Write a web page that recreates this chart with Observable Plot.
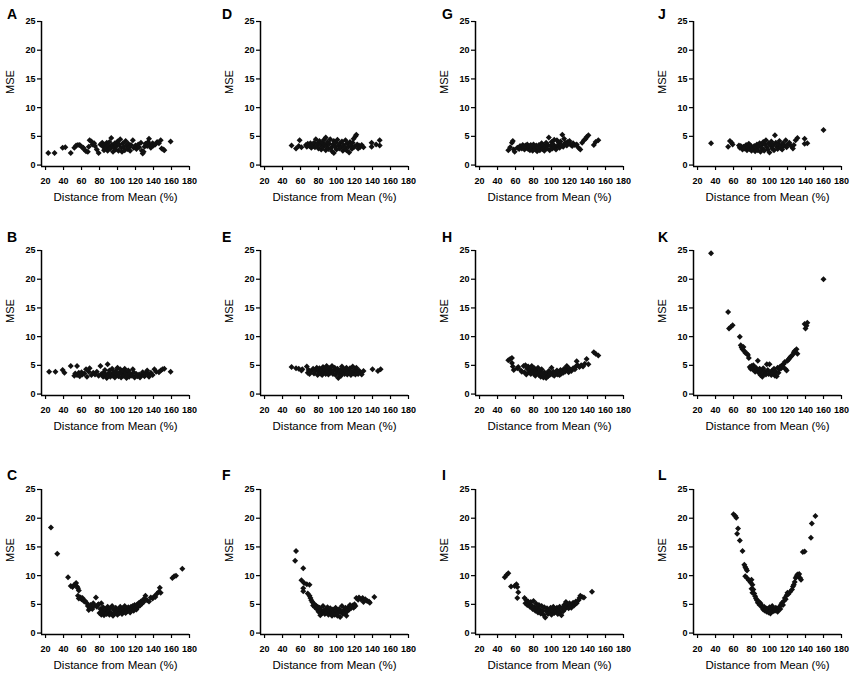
<!DOCTYPE html>
<html><head><meta charset="utf-8">
<script src="https://cdn.jsdelivr.net/npm/d3@7"></script>
<script src="https://cdn.jsdelivr.net/npm/@observablehq/plot@0.6"></script>
<style>
body{margin:0;background:#fff;}
#fig{position:relative;width:851px;height:681px;overflow:hidden;background:#fff;font-family:"Liberation Sans",Arial,sans-serif;}
#fig .panel{position:absolute;width:215px;height:210px;}
#fig .panel svg{max-width:none !important;width:215px;height:210px;}
#fig g[aria-label$="tick label"] text{font-weight:bold;}
#fig svg.letters{position:absolute;left:0;top:0;}
</style></head><body><div id="fig"></div>
<script>
// ---- tick labels and texts ----
const xTicks = [20, 40, 60, 80, 100, 120, 140, 160, 180];
const yTicks = [0, 5, 10, 15, 20, 25];
const xLabel = "Distance from Mean (%)";
const yLabel = "MSE";
const panelLetters = ["A","B","C","D","E","F","G","H","I","J","K","L"];

// ---- data: [distance from mean %, MSE] ----
const panelA = [[23,2.1],[30,2.1],[39,3.0],[42,3.1],[48,2.1],[52,3.0],[54,3.4],[56,3.5],[58,3.5],[60,3.2],[62,3.0],[63,2.7],[65,2.4],[67,2.3],[68,3.2],[69,4.3],[71,4.1],[72,3.6],[74,3.8],[75,3.3],[77,2.7],[79,2.1],[81,3.6],[83,3.9],[84,3.2],[85,2.6],[86,3.6],[87,3.0],[88,3.9],[89,2.5],[90,3.3],[91,4.0],[92,2.9],[93,4.7],[94,3.5],[95,2.3],[96,3.1],[97,3.8],[98,2.7],[99,3.3],[100,4.1],[101,2.5],[102,3.6],[103,4.5],[104,3.0],[105,2.3],[106,3.8],[107,3.2],[108,2.6],[109,4.2],[110,3.4],[111,2.8],[112,3.7],[113,3.1],[114,2.5],[115,3.5],[117,4.3],[118,3.0],[120,3.4],[121,2.8],[123,3.6],[124,3.1],[126,3.9],[127,2.5],[128,2.0],[129,2.3],[130,3.2],[131,3.7],[133,3.3],[134,4.0],[135,4.6],[136,3.5],[137,3.0],[139,3.8],[140,3.4],[142,3.6],[144,4.0],[146,3.8],[148,4.3],[149,2.9],[151,2.7],[152,2.6],[159,4.1]];
const panelB = [[24,3.9],[31,3.9],[39,4.2],[41,3.7],[48,4.9],[52,3.2],[53,3.6],[55,4.9],[55,3.3],[57,3.7],[58,3.1],[60,3.8],[61,3.4],[63,3.6],[65,4.3],[66,3.0],[68,3.9],[69,4.5],[71,3.3],[73,3.7],[75,3.4],[77,3.9],[79,3.2],[81,4.9],[82,3.5],[84,3.0],[85,3.8],[86,4.2],[87,3.3],[88,2.8],[89,5.2],[90,3.6],[91,4.1],[92,3.0],[93,3.5],[94,4.4],[95,3.2],[96,3.8],[97,2.9],[98,4.0],[99,3.4],[100,4.6],[101,3.1],[102,3.7],[103,4.3],[104,2.9],[105,3.5],[106,4.0],[107,3.2],[108,4.4],[109,3.7],[110,2.8],[111,3.4],[112,4.1],[113,3.0],[114,3.6],[116,3.2],[117,4.3],[118,3.8],[119,2.9],[121,3.5],[122,3.1],[124,3.4],[125,2.9],[127,3.3],[128,3.8],[130,3.1],[131,3.6],[133,4.1],[134,3.4],[135,3.0],[137,3.7],[139,3.3],[141,4.3],[143,3.9],[146,3.8],[148,4.1],[150,4.3],[152,4.4],[159,3.9]];
const panelC = [[26,18.4],[33,13.8],[45,9.7],[48,8.2],[50,8.0],[52,8.4],[54,8.7],[55,8.1],[56,7.8],[57,7.4],[56,6.5],[57,6.0],[59,6.2],[60,5.9],[61,6.1],[62,5.8],[63,5.5],[64,5.6],[66,5.2],[67,4.7],[68,4.0],[69,4.3],[70,4.9],[71,4.5],[72,4.2],[73,5.2],[74,4.8],[76,6.2],[77,4.6],[78,4.9],[79,5.0],[80,3.5],[81,4.2],[82,5.2],[82,3.2],[83,3.8],[84,4.5],[85,3.1],[86,3.6],[87,4.1],[88,3.3],[89,4.6],[90,3.8],[91,3.2],[92,4.3],[93,3.5],[94,4.7],[95,3.0],[96,4.0],[97,3.4],[98,4.4],[99,3.7],[100,3.2],[101,4.1],[102,3.5],[103,4.6],[104,3.9],[105,3.3],[106,4.3],[107,3.7],[108,4.7],[109,3.5],[110,4.1],[111,3.8],[112,4.5],[113,4.0],[114,3.6],[115,4.6],[116,4.2],[117,4.7],[118,3.9],[119,4.9],[120,4.4],[121,4.1],[122,5.0],[123,4.6],[124,5.3],[125,4.8],[126,5.5],[127,5.1],[128,5.7],[129,5.4],[130,6.0],[131,6.5],[133,5.7],[135,5.5],[137,6.2],[139,6.0],[141,6.4],[142,6.3],[144,6.9],[146,7.2],[147,7.9],[148,7.0],[161,9.6],[163,9.9],[165,10.0],[172,11.2]];
const panelD = [[50,3.4],[55,2.9],[58,3.3],[59,4.3],[61,3.1],[66,3.5],[67,3.2],[68,3.7],[70,3.3],[71,3.8],[72,3.0],[73,3.6],[74,3.3],[75,3.9],[76,3.1],[77,4.5],[78,3.4],[79,3.8],[80,2.9],[81,4.2],[82,3.5],[83,2.7],[84,3.9],[85,3.1],[86,4.4],[87,3.6],[88,4.8],[88,2.6],[89,3.3],[90,4.0],[91,2.8],[92,3.7],[93,4.5],[94,3.0],[95,2.4],[96,3.6],[97,4.2],[97,2.1],[98,3.2],[99,3.9],[100,2.7],[101,4.4],[102,3.4],[103,2.9],[104,3.8],[105,3.1],[106,4.1],[107,2.5],[108,3.5],[109,3.0],[110,4.3],[111,2.6],[112,3.7],[113,3.2],[114,2.2],[115,4.0],[116,3.4],[117,2.8],[118,3.9],[119,4.6],[120,3.2],[121,5.0],[122,5.3],[123,3.6],[124,2.9],[125,3.4],[126,3.1],[128,3.5],[130,3.1],[139,3.9],[139,3.2],[144,3.6],[148,4.3],[148,3.4]];
const panelE = [[50,4.7],[55,4.5],[58,4.4],[61,4.1],[62,4.3],[67,4.8],[68,3.7],[69,4.2],[70,3.5],[72,4.0],[74,4.4],[75,3.6],[77,4.1],[78,4.6],[79,3.3],[80,3.9],[81,4.5],[82,3.6],[83,4.2],[84,3.3],[85,4.7],[86,3.8],[87,4.3],[88,3.5],[89,4.9],[90,4.0],[91,3.4],[92,4.5],[93,3.7],[94,4.2],[95,4.9],[96,3.5],[97,4.1],[98,4.6],[99,3.3],[100,3.9],[101,4.4],[102,2.8],[103,3.6],[104,4.2],[105,3.2],[106,4.8],[107,3.8],[108,4.3],[109,3.5],[110,4.0],[111,4.6],[112,3.4],[113,4.1],[114,3.7],[115,4.5],[116,3.3],[117,3.9],[118,4.8],[119,3.6],[120,4.2],[121,3.4],[122,4.6],[123,3.9],[124,3.5],[125,4.1],[127,3.7],[128,3.4],[130,4.0],[140,4.3],[146,4.0],[149,4.3]];
const panelF = [[54,12.6],[55,14.3],[61,9.2],[63,11.3],[63,7.8],[63,7.3],[64,8.7],[67,8.5],[68,6.9],[70,8.4],[70,6.5],[71,6.1],[72,5.7],[73,5.4],[74,4.8],[75,5.1],[76,4.5],[77,4.8],[78,4.2],[79,4.6],[80,3.7],[81,4.4],[82,3.1],[83,4.0],[84,3.5],[85,4.7],[86,3.9],[87,3.3],[88,4.2],[89,3.6],[90,4.5],[91,3.2],[92,3.9],[93,4.3],[94,3.5],[95,3.0],[96,4.1],[97,3.6],[98,3.2],[99,4.4],[100,3.8],[101,3.0],[102,3.5],[103,4.2],[104,2.8],[105,3.7],[106,4.7],[107,3.3],[108,4.0],[109,3.5],[110,4.4],[111,3.0],[112,3.8],[113,4.5],[114,4.1],[115,4.9],[116,4.3],[117,4.6],[118,4.8],[119,4.4],[120,5.0],[121,4.7],[122,6.1],[124,5.8],[125,6.2],[127,5.9],[129,6.1],[130,5.4],[132,5.9],[134,5.6],[136,5.5],[137,5.3],[142,6.3]];
const panelG = [[52,2.6],[54,3.1],[56,3.9],[57,4.2],[58,2.7],[59,2.3],[62,3.0],[64,2.8],[65,3.3],[67,2.9],[68,3.5],[69,3.1],[70,2.7],[71,3.4],[72,3.0],[73,3.6],[74,2.8],[75,3.3],[76,2.6],[77,3.5],[78,3.0],[79,2.5],[80,3.6],[81,3.1],[82,2.7],[83,3.4],[84,2.4],[85,3.0],[86,3.5],[87,2.6],[88,3.2],[89,3.8],[90,2.8],[91,3.4],[92,2.5],[93,3.1],[94,3.9],[95,2.9],[96,3.5],[97,4.8],[98,2.6],[99,3.3],[100,4.0],[101,2.9],[102,3.6],[103,4.4],[104,3.1],[105,2.7],[106,4.3],[107,3.4],[108,3.9],[109,3.0],[110,4.1],[111,3.5],[112,5.3],[113,3.2],[114,4.6],[115,3.8],[116,3.9],[117,3.4],[118,4.0],[120,4.2],[121,3.6],[123,3.3],[124,3.8],[126,3.5],[128,3.6],[130,3.0],[132,2.7],[134,3.9],[136,4.3],[138,4.6],[139,4.9],[141,5.2],[147,3.5],[149,4.0],[152,4.3]];
const panelH = [[52,5.9],[54,6.1],[56,6.3],[56,5.4],[57,4.8],[58,4.2],[62,4.5],[63,4.7],[66,4.1],[67,3.9],[69,4.9],[70,3.8],[71,5.0],[72,3.4],[73,4.4],[74,4.8],[75,3.8],[76,4.3],[77,3.5],[78,4.9],[79,4.0],[80,3.6],[81,4.5],[82,3.2],[83,4.1],[84,3.7],[85,4.6],[86,3.3],[87,3.9],[88,3.0],[89,4.3],[90,3.5],[91,2.9],[92,3.8],[93,3.2],[94,2.8],[95,3.6],[96,3.1],[97,4.0],[98,3.3],[99,3.7],[100,4.6],[101,3.4],[102,3.9],[103,3.2],[104,3.7],[105,3.5],[106,4.1],[107,3.4],[108,3.8],[109,3.3],[110,4.2],[111,3.6],[112,4.0],[113,3.7],[114,4.4],[115,3.9],[116,4.3],[117,4.9],[118,4.1],[119,3.8],[120,4.4],[121,4.2],[122,4.0],[124,4.5],[126,4.3],[127,4.8],[128,5.7],[129,5.0],[131,4.7],[133,5.0],[135,4.8],[137,5.3],[139,6.1],[141,5.2],[147,7.3],[149,7.0],[152,6.7]];
const panelI = [[48,9.7],[50,10.1],[52,10.4],[55,8.1],[59,8.2],[61,8.5],[62,8.0],[63,7.1],[62,6.1],[70,6.1],[71,5.2],[72,5.7],[73,4.9],[74,5.5],[75,5.0],[76,4.6],[77,5.4],[78,4.8],[79,4.2],[80,5.6],[81,4.5],[82,3.9],[83,5.1],[84,4.4],[85,3.6],[86,4.9],[87,4.1],[88,3.4],[89,4.7],[90,3.9],[91,3.2],[92,4.5],[93,2.7],[94,3.8],[95,4.3],[96,3.3],[97,4.0],[98,3.6],[99,4.4],[100,3.2],[101,3.9],[102,4.6],[103,3.5],[104,4.2],[105,3.7],[106,4.4],[107,3.3],[108,4.0],[109,4.6],[110,3.6],[111,3.1],[112,4.3],[113,3.8],[114,4.9],[115,4.2],[116,5.4],[117,4.6],[118,5.0],[119,4.3],[120,5.2],[121,4.7],[122,4.4],[123,5.0],[124,5.3],[125,4.8],[126,5.1],[127,5.5],[128,5.2],[130,5.7],[131,6.1],[132,6.5],[134,6.3],[136,6.2],[145,7.2]];
const panelJ = [[35,3.8],[54,3.2],[56,4.2],[58,3.9],[59,3.6],[66,3.4],[67,3.0],[68,3.3],[70,2.7],[71,3.2],[72,2.9],[74,3.5],[75,2.6],[76,3.1],[77,3.7],[78,2.8],[79,3.4],[80,2.5],[81,3.0],[82,2.7],[83,3.3],[84,2.4],[85,3.0],[86,3.6],[87,2.6],[88,3.2],[89,3.8],[90,2.3],[91,3.4],[92,2.9],[93,4.0],[94,2.5],[95,3.6],[96,4.3],[97,3.1],[98,2.7],[99,3.8],[100,2.2],[101,3.4],[102,4.1],[103,2.9],[104,3.5],[105,2.6],[106,5.2],[107,3.9],[108,3.2],[109,2.8],[110,3.6],[111,4.2],[112,3.0],[113,3.4],[114,2.7],[115,3.8],[116,3.3],[118,4.3],[119,3.1],[120,3.6],[122,3.9],[124,3.3],[126,2.9],[127,3.5],[129,4.3],[131,4.7],[139,4.6],[139,3.7],[142,3.8],[160,6.1]];
const panelK = [[35,24.5],[54,14.3],[55,11.4],[57,11.7],[59,12.0],[67,10.0],[68,8.5],[69,8.1],[70,7.8],[71,8.2],[72,7.5],[73,7.2],[75,7.0],[76,6.8],[77,6.3],[78,4.7],[79,4.4],[80,4.9],[81,4.3],[82,5.0],[83,4.5],[84,3.9],[85,4.6],[86,4.1],[87,5.8],[88,3.7],[89,4.4],[90,3.3],[91,4.0],[92,3.0],[93,4.5],[94,3.6],[95,3.9],[96,3.4],[97,5.2],[98,4.2],[99,3.5],[100,5.2],[101,3.8],[102,3.3],[103,4.1],[104,3.6],[105,4.4],[106,3.2],[107,3.9],[108,3.1],[109,4.6],[110,3.7],[111,4.3],[112,4.8],[113,4.5],[114,5.0],[115,4.7],[116,5.3],[117,5.6],[118,4.3],[119,4.1],[120,5.8],[121,6.0],[122,6.2],[123,6.4],[124,6.6],[126,6.9],[127,7.3],[128,7.5],[130,7.8],[131,7.0],[139,12.2],[140,11.4],[141,11.9],[142,12.4],[160,20.0]];
const panelL = [[60,20.7],[62,20.4],[63,20.1],[64,17.3],[65,18.2],[67,16.1],[70,14.3],[72,11.9],[73,11.5],[74,11.2],[75,10.9],[73,9.9],[75,9.6],[77,9.2],[79,8.8],[80,9.3],[81,8.4],[80,7.7],[81,7.0],[82,7.6],[83,6.9],[84,6.4],[85,6.0],[86,5.7],[87,5.3],[88,5.5],[89,4.9],[90,5.2],[91,4.8],[92,4.4],[93,4.1],[94,4.6],[95,3.9],[96,4.3],[97,3.7],[98,4.2],[99,3.6],[100,4.5],[101,3.4],[102,4.0],[103,4.7],[104,3.8],[105,4.2],[106,3.9],[107,4.4],[108,4.1],[109,3.7],[110,4.3],[111,4.6],[112,4.2],[113,5.0],[114,5.3],[115,4.9],[116,5.6],[117,6.1],[118,5.9],[119,6.6],[120,7.0],[121,6.8],[123,7.2],[125,7.6],[126,8.1],[127,8.4],[128,8.9],[129,9.6],[130,9.9],[131,10.2],[132,10.0],[133,10.3],[134,9.6],[135,9.3],[137,14.1],[139,14.2],[146,16.6],[147,19.1],[151,20.4]];

const panels = [panelA, panelB, panelC, panelD, panelE, panelF, panelG, panelH, panelI, panelJ, panelK, panelL];

// ---- layout ----
const colLeft = [1, 220, 435, 653];
const rowTop = [1, 230, 469];
const letterX = [7, 222, 442, 658];
const letterY = [19, 242, 480];
const xDomain = [15.5, 180];
const yDomain = [-0.25, 25];

const fig = document.getElementById("fig");

function makePanel(data) {
  return Plot.plot({
    width: 215, height: 210,
    marginLeft: 40, marginRight: 27, marginTop: 20, marginBottom: 45,
    style: {fontFamily: "'Liberation Sans', Arial, sans-serif", color: "black", background: "white", overflow: "visible"},
    x: {domain: xDomain},
    y: {domain: yDomain},
    marks: [
      Plot.axisX({ticks: xTicks, tickSize: 4, tickPadding: 7, fontSize: 9, fontWeight: "bold", label: null, strokeWidth: 1.2}),
      Plot.axisY({ticks: yTicks, tickSize: 4, tickPadding: 2, fontSize: 9, fontWeight: "bold", label: null, strokeWidth: 1.2}),
      Plot.ruleX([xDomain[0]], {stroke: "black", strokeWidth: 1.5}),
      Plot.ruleY([yDomain[0]], {stroke: "black", strokeWidth: 1.5}),
      Plot.text([xLabel], {text: d => d, frameAnchor: "bottom", dy: 34, fontSize: 11.5}),
      Plot.text([yLabel], {text: d => d, frameAnchor: "left", dx: -31, rotate: -90, fontSize: 11}),
      Plot.dot(data, {x: d => d[0], y: d => d[1], symbol: "diamond2", r: 2.7, fill: "#111", stroke: "none"})
    ]
  });
}

panels.forEach((data, i) => {
  const c = Math.floor(i / 3), r = i % 3;
  const wrap = document.createElement("div");
  wrap.className = "panel";
  wrap.style.left = colLeft[c] + "px";
  wrap.style.top = rowTop[r] + "px";
  wrap.appendChild(makePanel(data));
  fig.appendChild(wrap);
});

// panel letters
const svg = d3.select(fig).append("svg").attr("class", "letters").attr("width", 851).attr("height", 681)
  .style("pointer-events", "none");
svg.selectAll("text").data(panelLetters).join("text")
  .attr("x", (d, i) => letterX[Math.floor(i / 3)])
  .attr("y", (d, i) => letterY[i % 3])
  .attr("font-family", "'Liberation Sans', Arial, sans-serif")
  .attr("font-weight", "bold")
  .attr("font-size", 14)
  .attr("fill", "black")
  .text(d => d);
</script>
</body></html>
